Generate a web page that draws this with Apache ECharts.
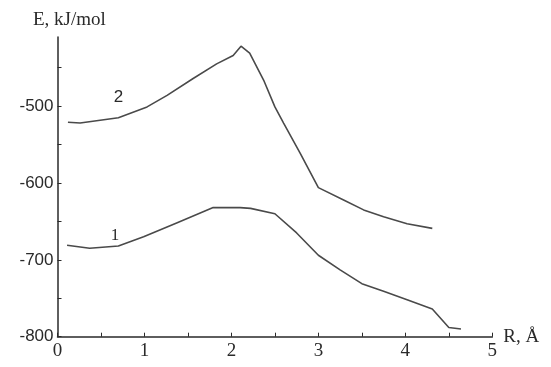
<!DOCTYPE html>
<html lang="en">
<head>
    <meta charset="UTF-8">
    <title>E(R)</title>
    <script src="https://cdn.jsdelivr.net/npm/echarts@6/dist/echarts.min.js"></script>
</head>
<style>
    body{
        margin: 0;
        padding: 0;
        background: #fff;
    }
</style>
<body>
<div id="main" style="width: 551px;height:367px;"></div>
<script>
    // curve 2 (upper)
    var curve2 = [
        [0.12, -521], [0.26, -522], [0.70, -515], [1.03, -501], [1.26, -486],
        [1.56, -464], [1.83, -445], [2.02, -434], [2.11, -422], [2.21, -431],
        [2.37, -466], [2.50, -501], [2.60, -522], [2.79, -561], [3.00, -606],
        [3.29, -622], [3.52, -635], [3.75, -644], [4.02, -653], [4.31, -659]
    ];
    // curve 1 (lower)
    var curve1 = [
        [0.11, -681], [0.37, -685], [0.70, -682], [0.99, -670], [1.37, -652],
        [1.79, -632], [2.10, -632], [2.22, -633], [2.50, -640], [2.75, -665],
        [3.00, -694], [3.25, -713], [3.50, -731], [3.75, -741], [4.02, -752],
        [4.31, -764], [4.50, -788], [4.64, -790]
    ];
    var xTicks = [0, 0.5, 1, 1.5, 2, 2.5, 3, 3.5, 4, 4.5, 5];
    var xLabels = [0, 1, 2, 3, 4, 5];
    var yTicks = [-800, -750, -700, -650, -600, -550, -500, -450];
    var yLabels = [-800, -700, -600, -500];
    // where the curve numbers sit (data coords)
    var tag2 = [0.70, -489];
    var tag1 = [0.66, -668];

    var chart = echarts.init(document.getElementById('main'));
    var lineCol = '#4a4a4a';
    var axisCol = '#2a2a2a';

    function tagPoint(txt, pos, font) {
        return {
            symbol: 'circle',
            symbolSize: 1,
            silent: true,
            itemStyle: {color: 'rgba(0,0,0,0)'},
            label: {show: true, position: 'inside', formatter: txt,
                color: '#2a2a2a', fontSize: 17, fontFamily: font},
            data: [{coord: pos}]
        };
    }

    var option = {
        animation: false,
        backgroundColor: '#fff',
        title: {
            text: 'E, kJ/mol',
            left: 28,
            top: 6,
            textStyle: {fontFamily: 'Liberation Serif', fontSize: 19, fontWeight: 'normal', color: '#2a2a2a'}
        },
        grid: {left: 57.5, right: 58.7, top: 37, bottom: 30.3},
        xAxis: {
            type: 'value',
            min: 0,
            max: 5,
            name: 'R, Å',
            nameLocation: 'end',
            nameGap: 11,
            nameTextStyle: {fontFamily: 'Liberation Serif', fontSize: 19, color: '#2a2a2a', padding: [26, 0, 0, 0]},
            splitLine: {show: false},
            axisLine: {lineStyle: {color: axisCol, width: 1.5}},
            axisTick: {inside: true, length: 4, customValues: xTicks, lineStyle: {color: axisCol}},
            axisLabel: {customValues: xLabels, margin: 5, fontFamily: 'Liberation Serif', fontSize: 19, color: '#2a2a2a'}
        },
        yAxis: {
            type: 'value',
            min: -800,
            max: -410,
            splitLine: {show: false},
            axisLine: {show: true, lineStyle: {color: axisCol, width: 1.5}},
            axisTick: {show: true, inside: true, length: 4, customValues: yTicks, lineStyle: {color: axisCol}},
            axisLabel: {customValues: yLabels, margin: 4, fontFamily: 'Liberation Sans', fontSize: 17, color: '#2a2a2a'}
        },
        series: [{
            name: '2',
            type: 'line',
            data: curve2,
            showSymbol: false,
            lineStyle: {color: lineCol, width: 1.6},
            markPoint: tagPoint('2', tag2, 'Liberation Sans')
        }, {
            name: '1',
            type: 'line',
            data: curve1,
            showSymbol: false,
            lineStyle: {color: lineCol, width: 1.6},
            markPoint: tagPoint('1', tag1, 'Liberation Serif')
        }]
    };
    chart.setOption(option);
</script>
</body>
</html>
